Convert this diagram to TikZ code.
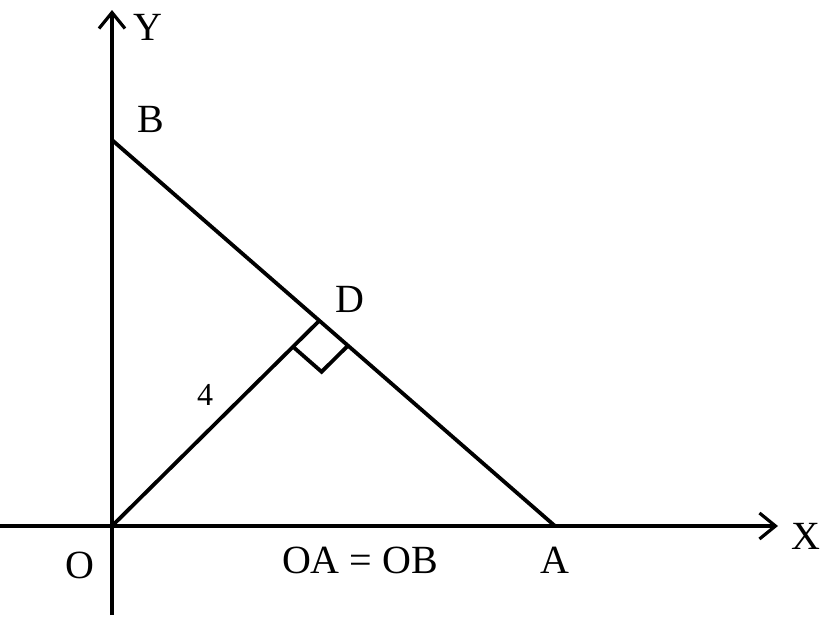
\documentclass[tikz,border=0pt]{standalone}
\usepackage{fontspec}
\setmainfont{Liberation Serif}
\usetikzlibrary{arrows.meta,calc}
\begin{document}
\begin{tikzpicture}[x=1pt,y=-1pt, line width=3.8pt,
  axis/.style={-{Straight Barb[length=16pt,width=26pt,line width=3.2pt]}},
  lbl/.style={font=\fontsize{40}{40}\selectfont, inner sep=0pt},
  small/.style={font=\fontsize{32}{32}\selectfont, inner sep=0pt}]
\useasboundingbox (0,0) rectangle (823,621);
\coordinate (O) at (112,526);
\coordinate (B) at (112,140);
\coordinate (A) at (555,526);
\coordinate (D) at (320,320);
\coordinate (Xs) at (0,526);
\coordinate (Xe) at (778,526);
\coordinate (Ys) at (112,615);
\coordinate (Ye) at (112,10);
\draw[axis] (Xs) -- (Xe);
\draw[axis] (Ys) -- (Ye);
\draw (B) -- (A);
\draw (O) -- (D);
\coordinate (P1) at ($(D)!38pt!(O)$);
\coordinate (P2) at ($(D)!38pt!(A)$);
\draw (P1) -- ($(P1)+(P2)-(D)$) -- (P2);
\node[lbl] (lY) at (148,27) {Y};
\node[lbl] (lB) at (151,119) {B};
\node[lbl] (lD) at (350,299) {D};
\node[small] (l4) at (205,395) {4};
\node[lbl] (lO) at (80,565) {O};
\node[lbl] (lOAOB) at (360,560) {OA = OB};
\node[lbl] (lA) at (555,560) {A};
\node[lbl] (lX) at (806,536) {X};
\end{tikzpicture}
\end{document}
